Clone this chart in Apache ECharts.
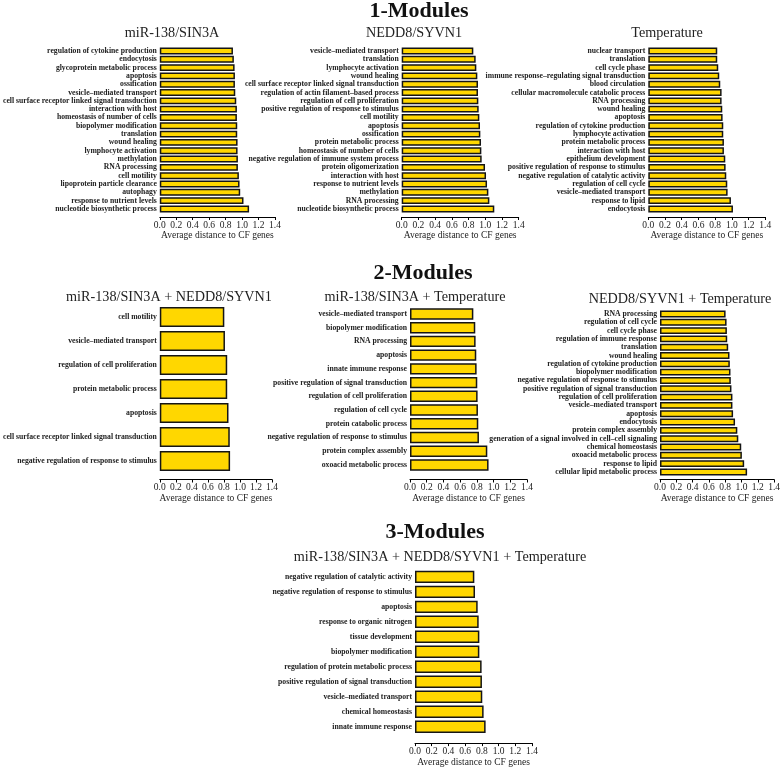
<!DOCTYPE html>
<html><head><meta charset="utf-8">
<script src="https://cdn.jsdelivr.net/npm/echarts@6/dist/echarts.min.js"></script>
<style>html,body{margin:0;padding:0;background:#fff}#c{width:783px;height:768px}</style>
</head><body><div id="c"></div>
<script>
// ---- data ----
const tickLabels = ['0.0','0.2','0.4','0.6','0.8','1.0','1.2','1.4'];
const axisTitle = 'Average distance to CF genes';
const sectionTitles = ['1-Modules','2-Modules','3-Modules'];

const titleA = 'miR-138/SIN3A';
const catA = ['regulation of cytokine production','endocytosis','glycoprotein metabolic process','apoptosis','ossification','vesicle–mediated transport','cell surface receptor linked signal transduction','interaction with host','homeostasis of number of cells','biopolymer modification','translation','wound healing','lymphocyte activation','methylation','RNA processing','cell motility','lipoprotein particle clearance','autophagy','response to nutrient levels','nucleotide biosynthetic process'];
const valA = [0.889,0.900,0.909,0.913,0.913,0.917,0.929,0.937,0.937,0.941,0.941,0.945,0.945,0.949,0.949,0.961,0.969,0.977,1.017,1.085];

const titleB = 'NEDD8/SYVN1';
const catB = ['vesicle–mediated transport','translation','lymphocyte activation','wound healing','cell surface receptor linked signal transduction','regulation of actin filament–based process','regulation of cell proliferation','positive regulation of response to stimulus','cell motility','apoptosis','ossification','protein metabolic process','homeostasis of number of cells','negative regulation of immune system process','protein oligomerization','interaction with host','response to nutrient levels','methylation','RNA processing','nucleotide biosynthetic process'];
const valB = [0.857,0.885,0.893,0.905,0.913,0.913,0.917,0.921,0.929,0.937,0.941,0.949,0.953,0.957,0.997,1.009,1.021,1.037,1.049,1.108];

const titleC = 'Temperature';
const catC = ['nuclear transport','translation','cell cycle phase','immune response–regulating signal transduction','blood circulation','cellular macromolecule catabolic process','RNA processing','wound healing','apoptosis','regulation of cytokine production','lymphocyte activation','protein metabolic process','interaction with host','epithelium development','positive regulation of response to stimulus','negative regulation of catalytic activity','regulation of cell cycle','vesicle–mediated transport','response to lipid','endocytosis'];
const valC = [0.825,0.825,0.837,0.849,0.861,0.877,0.877,0.885,0.889,0.897,0.897,0.905,0.905,0.921,0.925,0.933,0.945,0.949,0.989,1.013];

const titleD = 'miR-138/SIN3A + NEDD8/SYVN1';
const catD = ['cell motility','vesicle–mediated transport','regulation of cell proliferation','protein metabolic process','apoptosis','cell surface receptor linked signal transduction','negative regulation of response to stimulus'];
const valD = [0.805,0.813,0.841,0.841,0.857,0.873,0.877];

const titleE = 'miR-138/SIN3A + Temperature';
const catE = ['vesicle–mediated transport','biopolymer modification','RNA processing','apoptosis','innate immune response','positive regulation of signal transduction','regulation of cell proliferation','regulation of cell cycle','protein catabolic process','negative regulation of response to stimulus','protein complex assembly','oxoacid metabolic process'];
const valE = [0.758,0.781,0.785,0.793,0.797,0.805,0.809,0.813,0.817,0.825,0.925,0.940];

const titleF = 'NEDD8/SYVN1 + Temperature';
const catF = ['RNA processing','regulation of cell cycle','cell cycle phase','regulation of immune response','translation','wound healing','regulation of cytokine production','biopolymer modification','negative regulation of response to stimulus','positive regulation of signal transduction','regulation of cell proliferation','vesicle–mediated transport','apoptosis','endocytosis','protein complex assembly','generation of a signal involved in cell–cell signaling','chemical homeostasis','oxoacid metabolic process','response to lipid','cellular lipid metabolic process'];
const valF = [0.805,0.817,0.821,0.825,0.837,0.853,0.857,0.865,0.869,0.877,0.889,0.889,0.897,0.921,0.949,0.961,0.997,1.005,1.033,1.069];

const titleG = 'miR-138/SIN3A + NEDD8/SYVN1 + Temperature';
const catG = ['negative regulation of catalytic activity','negative regulation of response to stimulus','apoptosis','response to organic nitrogen','tissue development','biopolymer modification','regulation of protein metabolic process','positive regulation of signal transduction','vesicle–mediated transport','chemical homeostasis','innate immune response'];
const valG = [0.710,0.718,0.750,0.762,0.770,0.770,0.797,0.801,0.805,0.821,0.845];

// ---- layout (positions only) ----
const panels = [
  {title:titleA, cat:catA, val:valA, left:158, top:46.8, h:166.3, axisY:217, tx:172, ty:33},
  {title:titleB, cat:catB, val:valB, left:401.7, top:46.8, h:166.3, axisY:217, tx:414, ty:33},
  {title:titleC, cat:catC, val:valC, left:648.3, top:46.8, h:166.3, axisY:217, tx:667, ty:33},
  {title:titleD, cat:catD, val:valD, left:155, top:305, h:168, axisY:479.5, tx:169, ty:297},
  {title:titleE, cat:catE, val:valE, left:410, top:307.1, h:164.7, axisY:479.5, tx:415, ty:297},
  {title:titleF, cat:catF, val:valF, left:660, top:309.8, h:166.3, axisY:479.5, tx:680, ty:299},
  {title:titleG, cat:catG, val:valG, left:415, top:569.4, h:167.2, axisY:745.5, tx:440, ty:557}
];
const sectionPos = [[419,11],[423,273],[435,532]];

const SERIF = '"Liberation Serif","Times New Roman",serif';
const grids=[], xAxes=[], yAxes=[], series=[], graphics=[];
panels.forEach((p,i)=>{
  grids.push({left:p.left, top:p.top, width:117, height:p.h, containLabel:false});
  xAxes.push({type:'value', gridIndex:i, min:0, max:1.4, interval:0.2,
    offset: p.axisY-(p.top+p.h),
    axisLine:{show:true, onZero:false, lineStyle:{color:'#000', width:1}},
    axisTick:{show:true, length:3, lineStyle:{color:'#000'}},
    axisLabel:{margin:3, fontSize:9.5, fontFamily:SERIF, color:'#222',
      formatter:(v)=>tickLabels[Math.round(v/0.2)]},
    splitLine:{show:false},
    name:axisTitle, nameLocation:'middle', nameGap:11,
    nameTextStyle:{fontSize:9.5, fontFamily:SERIF, color:'#222'}});
  yAxes.push({type:'category', gridIndex:i, data:p.cat, inverse:true,
    axisLine:{show:false}, axisTick:{show:false},
    axisLabel:{interval:0, hideOverlap:false, margin:3, fontSize:7.7, fontWeight:'bold', fontFamily:SERIF, color:'#222'}});
  series.push({type:'bar', xAxisIndex:i, yAxisIndex:i, data:p.val,
    barCategoryGap:'17%', silent:true, animation:false,
    itemStyle:{color:'#FFD700', borderColor:'#151515', borderWidth:1.5}});
  graphics.push({type:'text', x:p.tx, y:p.ty, style:{text:p.title, font:'14.2px '+SERIF, fill:'#222', align:'center', verticalAlign:'middle'}});
});
sectionTitles.forEach((t,i)=>{
  graphics.push({type:'text', x:sectionPos[i][0], y:sectionPos[i][1], style:{text:t, font:'bold 22px '+SERIF, fill:'#111', align:'center', verticalAlign:'middle'}});
});

const chart = echarts.init(document.getElementById('c'), null, {renderer:'canvas'});
chart.setOption({animation:false, backgroundColor:'#fff', grid:grids, xAxis:xAxes, yAxis:yAxes, series:series, graphic:graphics});
</script></body></html>
